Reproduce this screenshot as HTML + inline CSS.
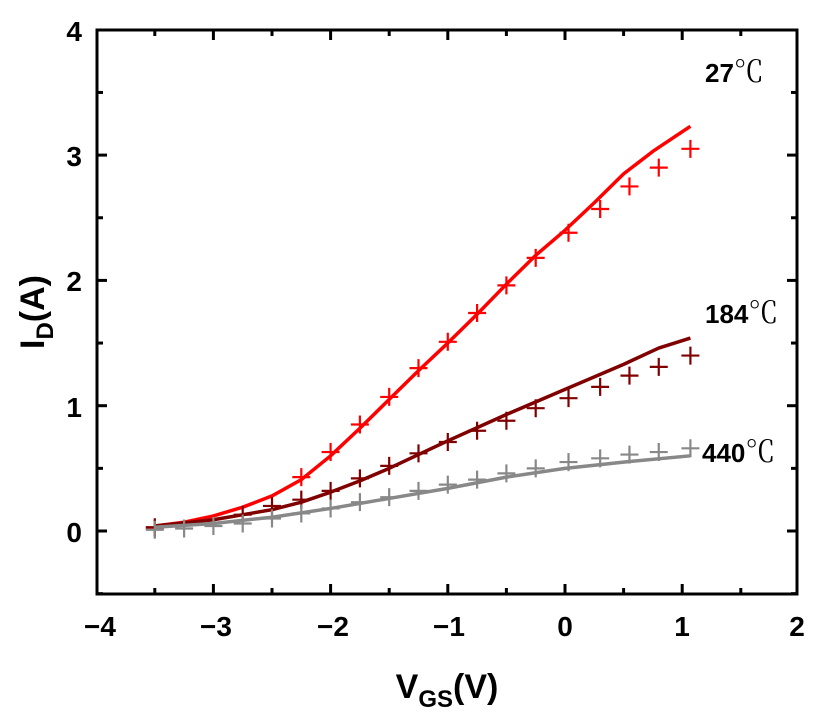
<!DOCTYPE html>
<html><head><meta charset="utf-8"><style>
body{margin:0;background:#fff}
svg{display:block}
text{font-family:"Liberation Sans",Arial,sans-serif;font-weight:bold}
</style></head><body>
<svg id="s" width="840" height="713" viewBox="0 0 840 713" xmlns="http://www.w3.org/2000/svg">
<rect x="97" y="30" width="700" height="564" fill="none" stroke="#000" stroke-width="3"/>
<g id="ticks" stroke="#000" stroke-width="3"></g>
<g font-size="28" text-anchor="middle">
<text x="100" y="636">−4</text><text x="216" y="636">−3</text><text x="333" y="636">−2</text>
<text x="449" y="636">−1</text><text x="565" y="636">0</text><text x="682" y="636">1</text><text x="797" y="636">2</text>
</g>
<g font-size="28" text-anchor="end">
<text x="82" y="41">4</text><text x="82" y="166">3</text><text x="82" y="291">2</text>
<text x="82" y="417">1</text><text x="82" y="542">0</text>
</g>
<text font-size="34" transform="translate(44,312) rotate(-90)" text-anchor="middle">I<tspan font-size="24" dy="9">D</tspan><tspan dy="-9">(A)</tspan></text>
<text font-size="34" x="447" y="698" text-anchor="middle">V<tspan font-size="24" dy="9">GS</tspan><tspan dy="-9">(V)</tspan></text>
<g font-size="26">
<text x="705" y="82">27<tspan font-size="30" font-weight="normal" font-family="'Liberation Serif','Noto Serif CJK SC',serif">℃</tspan></text>
<text x="705" y="323">184<tspan font-size="30" font-weight="normal" font-family="'Liberation Serif','Noto Serif CJK SC',serif">℃</tspan></text>
<text x="702" y="462">440<tspan font-size="30" font-weight="normal" font-family="'Liberation Serif','Noto Serif CJK SC',serif">℃</tspan></text>
</g>
<g id="data"></g>
</svg>
<script>
var X=function(v){return 565+117.2*v},Y=function(i){return 531-125.3*i};
var t=document.getElementById('ticks'),h='';
for(var v=-3.5;v<2;v+=0.5){var L=(v%1==0)?10:6;h+='<line x1="'+X(v)+'" y1="594" x2="'+X(v)+'" y2="'+(594-L)+'"/><line x1="'+X(v)+'" y1="30" x2="'+X(v)+'" y2="'+(30+L)+'"/>';}
for(var i=-0.5;i<4;i+=0.5){var L=(i%1==0)?10:6;h+='<line x1="97" y1="'+Y(i)+'" x2="'+(97+L)+'" y2="'+Y(i)+'"/><line x1="797" y1="'+Y(i)+'" x2="'+(797-L)+'" y2="'+Y(i)+'"/>';}
t.innerHTML=h;
var S=[
{c:"#ff0000",l:[[-3.5,0.04],[-3.25,0.07],[-3,0.12],[-2.75,0.19],[-2.5,0.28],[-2.25,0.41],[-2,0.6],[-1.75,0.82],[-1.5,1.05],[-1.25,1.28],[-1,1.5],[-0.75,1.73],[-0.5,1.97],[-0.25,2.2],[0,2.4],[0.25,2.62],[0.5,2.85],[0.75,3.03],[1.07,3.23]],
m:[[-3.5,0.02],[-2.25,0.43],[-2,0.63],[-1.75,0.85],[-1.5,1.07],[-1.25,1.3],[-1,1.51],[-0.75,1.74],[-0.5,1.96],[-0.25,2.18],[0.03,2.38],[0.3,2.57],[0.55,2.75],[0.8,2.9],[1.07,3.05]]},
{c:"#800000",l:[[-3.5,0.04],[-3,0.09],[-2.5,0.17],[-2.25,0.23],[-2,0.31],[-1.75,0.4],[-1.5,0.5],[-1.25,0.61],[-1,0.72],[-0.5,0.93],[0,1.13],[0.5,1.33],[0.8,1.46],[1.07,1.54]],
m:[[-3.5,0.03],[-2.75,0.13],[-2.5,0.2],[-2.25,0.25],[-2,0.32],[-1.75,0.42],[-1.5,0.52],[-1.25,0.62],[-1,0.71],[-0.75,0.8],[-0.5,0.88],[-0.25,0.98],[0.03,1.06],[0.3,1.15],[0.55,1.24],[0.8,1.31],[1.07,1.4]]},
{c:"#888888",l:[[-3.5,0.03],[-3,0.06],[-2.5,0.11],[-2,0.18],[-1.5,0.26],[-1,0.34],[-0.5,0.43],[0,0.5],[0.5,0.55],[1.07,0.6]],
m:[[-3.5,0.01],[-3.25,0.02],[-3,0.04],[-2.75,0.06],[-2.5,0.1],[-2.25,0.14],[-2,0.18],[-1.75,0.23],[-1.5,0.27],[-1.25,0.32],[-1,0.37],[-0.75,0.41],[-0.5,0.46],[-0.25,0.5],[0.03,0.55],[0.3,0.58],[0.55,0.61],[0.8,0.63],[1.07,0.66]]}];
var d='';
S.forEach(function(s){
d+='<polyline fill="none" stroke="'+s.c+'" stroke-width="3.5" stroke-linejoin="round" points="'+s.l.map(function(p){return X(p[0])+','+Y(p[1])}).join(' ')+'"/>';
s.m.forEach(function(p){var x=X(p[0]),y=Y(p[1]);d+='<path d="M'+(x-9)+' '+y+'H'+(x+9)+'M'+x+' '+(y-9)+'V'+(y+9)+'" stroke="'+s.c+'" stroke-width="2.2"/>';});
});
document.getElementById('data').innerHTML=d;
</script>
</body></html>
